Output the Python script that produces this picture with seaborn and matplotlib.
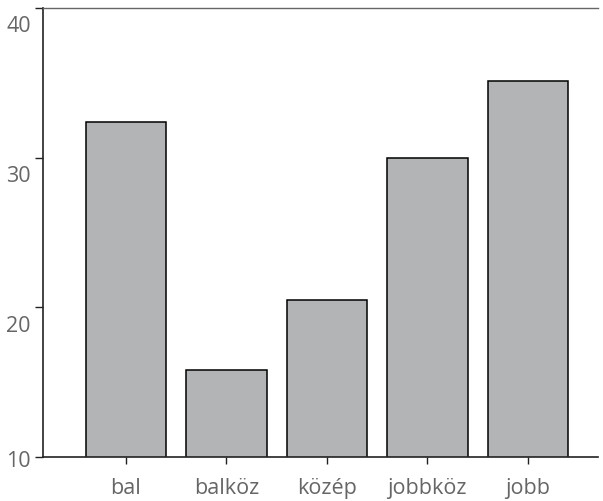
import matplotlib
matplotlib.use("Agg")
import matplotlib.pyplot as plt
import matplotlib.transforms as mtransforms
import seaborn as sns
import pandas as pd

# categories and values
kategoriak = ['bal', 'balköz', 'közép', 'jobbköz', 'jobb']
ertekek = [32.4, 15.8, 20.5, 30.0, 35.1]
y_ticks = [10, 20, 30, 40]

df = pd.DataFrame({'kat': kategoriak, 'ertek': ertekek})

sns.set_style('white')
plt.rcParams['font.family'] = ['Open Sans', 'DejaVu Sans']

fig = plt.figure(figsize=(6.03, 5.01), dpi=100)
ax = fig.add_axes([0.072, 0.088, 0.92, 0.896])

sns.barplot(data=df, x='kat', y='ertek', color='#b3b4b6', saturation=1,
            width=0.8, edgecolor='black', linewidth=1.1, ax=ax)

ax.set_ylim(10, 40)
ax.set_xlim(-0.82, 4.7)
ax.set_yticks(y_ticks)
ax.set_xlabel('')
ax.set_ylabel('')

ax.spines['right'].set_visible(False)
ax.spines['top'].set_color('#666666')
ax.spines['top'].set_linewidth(1.0)
ax.spines['left'].set_color('#222222')
ax.spines['bottom'].set_color('#222222')
ax.spines['left'].set_linewidth(1.2)
ax.spines['bottom'].set_linewidth(1.2)

ax.tick_params(axis='y', direction='out', length=6, width=1, color='#222222',
               labelsize=15.5, labelcolor='#666666', pad=3, left=True)
ax.tick_params(axis='x', direction='out', length=5, width=1, color='#222222',
               labelsize=15.5, labelcolor='#666666', pad=10, bottom=True)

# y labels sit a bit below their ticks, the lowest one is kept inside
lefel = mtransforms.ScaledTranslation(0, -6 / 72, fig.dpi_scale_trans)
also = mtransforms.ScaledTranslation(0, -3 / 72, fig.dpi_scale_trans)
for i, lab in enumerate(ax.get_yticklabels()):
    if i == 0:
        lab.set_verticalalignment('center')
        lab.set_transform(lab.get_transform() + also)
    else:
        lab.set_verticalalignment('top')
        lab.set_transform(lab.get_transform() + lefel)

fig.savefig('out.png', dpi=100)
